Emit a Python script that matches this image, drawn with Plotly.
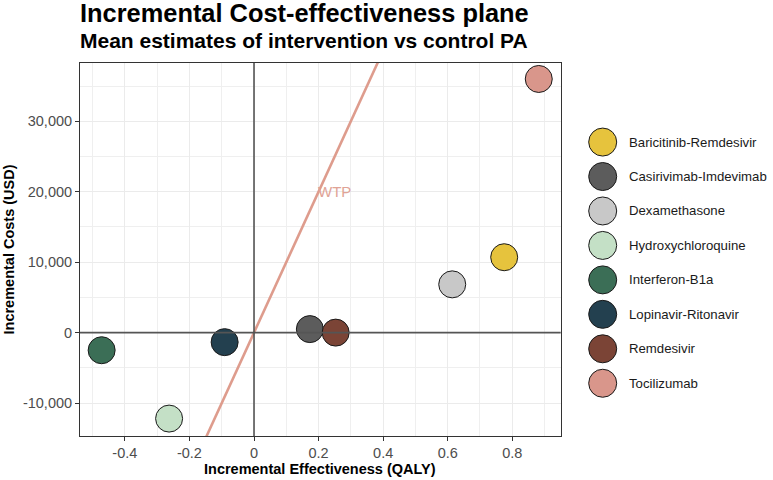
import plotly.graph_objects as go

# ---- data ----
strategies = ["Baricitinib-Remdesivir", "Casirivimab-Imdevimab", "Dexamethasone",
              "Hydroxychloroquine", "Interferon-B1a", "Lopinavir-Ritonavir",
              "Remdesivir", "Tocilizumab"]
inc_effect = [0.775, 0.173, 0.614, -0.263, -0.472, -0.091, 0.253, 0.882]
inc_cost = [10700, 500, 6850, -12200, -2500, -1350, 0, 36000]
colors = ["#E6C33D", "#5C5C5C", "#C8C8C8", "#C4E0C6", "#3B6E56", "#23404F",
          "#7B4436", "#D9968B"]
wtp = 100000  # USD per QALY
x_ticks = [-0.4, -0.2, 0, 0.2, 0.4, 0.6, 0.8]
x_ticktext = ["-0.4", "-0.2", "0", "0.2", "0.4", "0.6", "0.8"]
y_ticks = [-10000, 0, 10000, 20000, 30000]
y_ticktext = ["-10,000", "0", "10,000", "20,000", "30,000"]
x_minor = [-0.5, -0.3, -0.1, 0.1, 0.3, 0.5, 0.7, 0.9]
y_minor = [-5000, 5000, 15000, 25000, 35000]

FONT = "Liberation Sans, Arial, Helvetica, sans-serif"
xr = [-0.539, 0.950]
yr = [-14673, 38267]

fig = go.Figure()

# WTP line (abline through origin)
fig.add_trace(go.Scatter(x=[xr[0], xr[1]], y=[wtp * xr[0], wtp * xr[1]], mode="lines",
                         line=dict(color="#DE9C8D", width=2.6), showlegend=False,
                         hoverinfo="skip", cliponaxis=True))

# points
for s, xv, yv, c in zip(strategies, inc_effect, inc_cost, colors):
    fig.add_trace(go.Scatter(x=[xv], y=[yv], mode="markers", name=s, showlegend=False,
                             marker=dict(size=27, color=c, line=dict(color="#1A1A1A", width=1))))

# custom legend on secondary axes
idx = list(range(len(strategies)))
fig.add_trace(go.Scatter(x=[17.7] * len(idx), y=idx, mode="markers", xaxis="x2", yaxis="y2",
                         showlegend=False, hoverinfo="skip",
                         marker=dict(size=28, color=colors, line=dict(color="#1A1A1A", width=1))))

# zero lines above points
fig.add_hline(y=0, line=dict(color="#555555", width=1.6), layer="above")
fig.add_vline(x=0, line=dict(color="#555555", width=1.6), layer="above")

annotations = []
for i, s in enumerate(strategies):
    annotations.append(dict(x=42, y=i, xref="x2", yref="y2", text=s, showarrow=False,
                            xanchor="left", yanchor="middle",
                            font=dict(family=FONT, size=13.2, color="#1A1A1A")))
annotations.append(dict(x=-1, y=-1.0, xref="x2", yref="y2", text="<b>Strategy</b>",
                        showarrow=False, xanchor="left", yanchor="middle",
                        font=dict(family=FONT, size=17, color="#000000")))
annotations.append(dict(x=0.25, y=20000, xref="x", yref="y", text="WTP", showarrow=False,
                        xanchor="center", yanchor="middle",
                        font=dict(family=FONT, size=15, color="#E0A396")))
annotations.append(dict(x=0, y=1.135, xref="paper", yref="paper",
                        text="<b>Incremental Cost-effectiveness plane</b>", showarrow=False,
                        xanchor="left", yanchor="middle", xshift=-2,
                        font=dict(family=FONT, size=25.4, color="#000000")))
annotations.append(dict(x=0, y=1.060, xref="paper", yref="paper",
                        text="<b>Mean estimates of intervention vs control PA</b>", showarrow=False,
                        xanchor="left", yanchor="middle", xshift=-2,
                        font=dict(family=FONT, size=21, color="#000000")))
annotations.append(dict(x=0.3518, y=-0.0885, xref="paper", yref="paper",
                        text="<b>Incremental Effectiveness (QALY)</b>", showarrow=False,
                        xanchor="center", yanchor="middle",
                        font=dict(family=FONT, size=14.5, color="#000000")))
annotations.append(dict(x=-0.104, y=0.5, xref="paper", yref="paper",
                        text="<b>Incremental Costs (USD)</b>", showarrow=False, textangle=-90,
                        xanchor="center", yanchor="middle",
                        font=dict(family=FONT, size=14.5, color="#000000")))

main_w = 773 - 80 - 10
dom_x = 480.7 / main_w
leg_start = (585 - 80) / main_w

fig.update_layout(
    width=773, height=480,
    margin=dict(l=80, r=10, t=63, b=44, autoexpand=False),
    paper_bgcolor="white", plot_bgcolor="white",
    font=dict(family=FONT),
    showlegend=False,
    annotations=annotations,
    xaxis=dict(domain=[0, dom_x], range=xr, tickvals=x_ticks, ticktext=x_ticktext,
               automargin=False,
               showgrid=True, gridcolor="#EBEBEB", gridwidth=1, zeroline=False,
               showline=True, mirror=True, linecolor="#333333", linewidth=1,
               ticks="outside", ticklen=4, tickcolor="#333333", tickwidth=1,
               tickfont=dict(family=FONT, size=14.5, color="#4D4D4D"),
               minor=dict(tickvals=x_minor, showgrid=True, gridcolor="#EFEFEF", gridwidth=1)),
    yaxis=dict(domain=[0, 1], range=yr, tickvals=y_ticks, ticktext=y_ticktext,
               automargin=False,
               showgrid=True, gridcolor="#EBEBEB", gridwidth=1, zeroline=False,
               showline=True, mirror=True, linecolor="#333333", linewidth=1,
               ticks="outside", ticklen=4, tickcolor="#333333", tickwidth=1,
               tickfont=dict(family=FONT, size=14.5, color="#4D4D4D"),
               minor=dict(tickvals=y_minor, showgrid=True, gridcolor="#EFEFEF", gridwidth=1)),
    xaxis2=dict(domain=[leg_start, 1], range=[0, 773 - 10 - 585], visible=False,
                anchor="y2", fixedrange=True, automargin=False),
    yaxis2=dict(domain=[0, 1], range=[8.531, -2.295], visible=False, anchor="x2",
                fixedrange=True, automargin=False),
)

fig.write_html("out.html", config={"displayModeBar": False},
               post_script="document.body.style.margin='0px';document.body.style.overflow='hidden';")
